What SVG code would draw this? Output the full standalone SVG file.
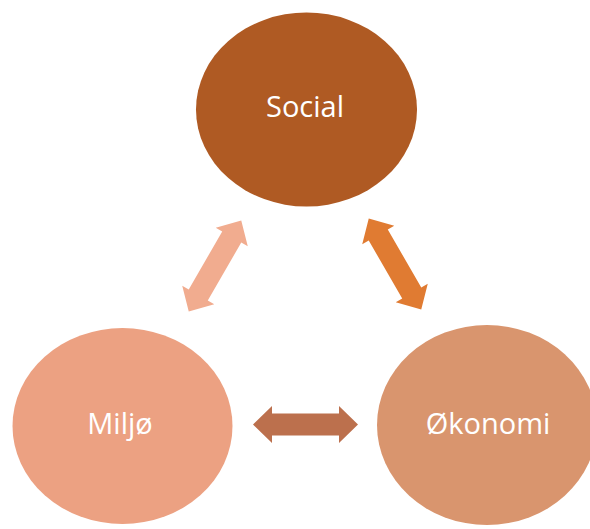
<svg xmlns="http://www.w3.org/2000/svg" xmlns:xlink="http://www.w3.org/1999/xlink" width="590" height="529" viewBox="0 0 590 529">
  <style>
    .label { font-family: "Open Sans", "Liberation Sans", sans-serif; font-size: 29px; fill: #ffffff; text-anchor: middle; }
  </style>
  <defs>
    <!-- double-headed block arrow, centred on the origin, pointing along x -->
    <path id="dblArrow" d="M-52.5,0 L-33.5,-18.5 L-33.5,-11 L33.5,-11 L33.5,-18.5 L52.5,0 L33.5,18.5 L33.5,11 L-33.5,11 L-33.5,18.5 Z"/>
  </defs>
  <rect width="590" height="529" fill="#ffffff"/>

  <g id="connectors">
    <use xlink:href="#dblArrow" href="#dblArrow" transform="translate(215,266) rotate(-60)" fill="#F1AC8F"/>
    <use xlink:href="#dblArrow" href="#dblArrow" transform="translate(395,264) rotate(60)" fill="#E07B32"/>
    <use xlink:href="#dblArrow" href="#dblArrow" transform="translate(305.5,424.5)" fill="#BC704D"/>
  </g>

  <g id="social">
    <ellipse cx="306.5" cy="109.5" rx="110.5" ry="97" fill="#AF5A23"/>
    <text class="label" x="305" y="117">Social</text>
  </g>

  <g id="miljo">
    <ellipse cx="122.5" cy="426" rx="110" ry="98" fill="#ECA182"/>
    <text class="label" x="120" y="434">Miljø</text>
  </g>

  <g id="okonomi">
    <ellipse cx="487" cy="425" rx="110" ry="100" fill="#D9956E"/>
    <text class="label" x="488" y="434">Økonomi</text>
  </g>
</svg>
